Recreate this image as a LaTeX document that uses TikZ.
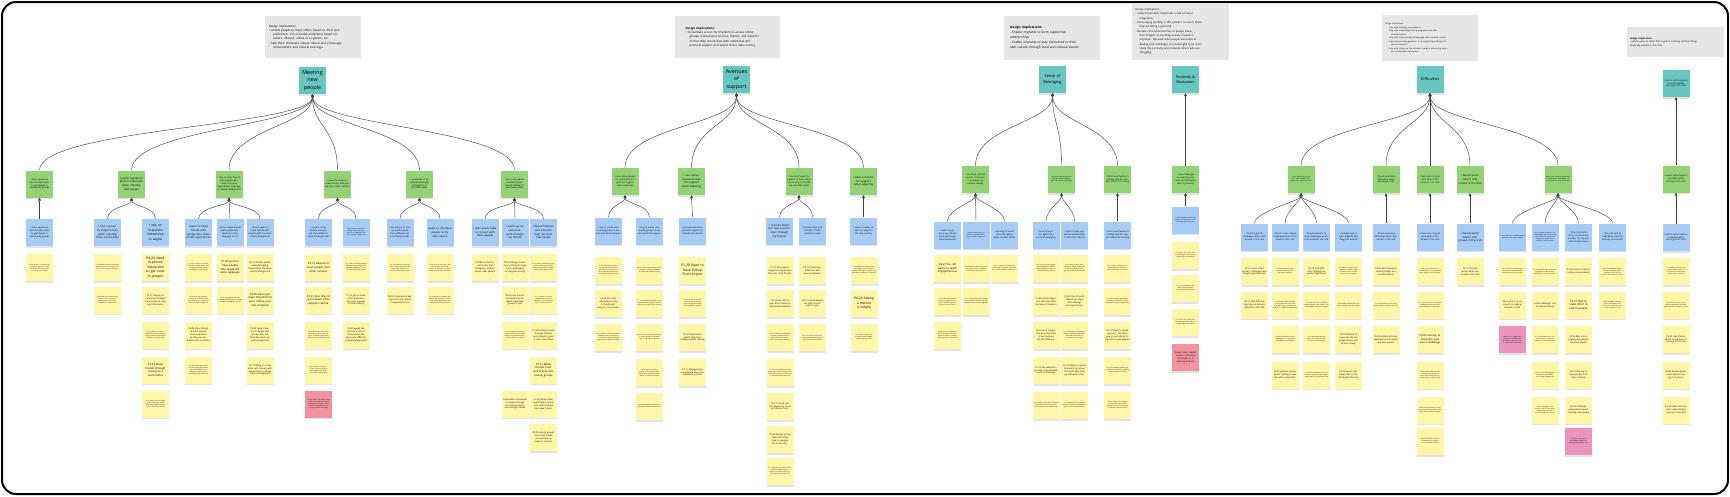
\documentclass[tikz,border=0pt]{standalone}
\usepackage{fontspec}
\setmainfont{Open Sans}
\usetikzlibrary{arrows.meta,shadows}

\definecolor{themecol}{HTML}{67C6C0}
\definecolor{insightcol}{HTML}{93D275}
\definecolor{findcol}{HTML}{A6CCF5}
\definecolor{quotecol}{HTML}{FFF6A8}
\definecolor{redcol}{HTML}{F0939D}
\definecolor{pinkcol}{HTML}{EA94BB}
\definecolor{implcol}{HTML}{E6E6E6}

\begin{document}
\begin{tikzpicture}[x=1pt, y=-1pt,
    note/.style={minimum width=27pt, minimum height=27pt, inner sep=0.8pt, text width=24.5pt, align=center,
      drop shadow={shadow xshift=0pt, shadow yshift=-1.5pt, opacity=0.22}},
    cluster/.style={note, fill=themecol, font=\fontsize{5.4}{7.4}\selectfont},
    insight/.style={note, fill=insightcol},
    finding/.style={note, fill=findcol},
    quote/.style={note, fill=quotecol},
    idea/.style={note, fill=#1},
    fbig/.style={font=\fontsize{3.3}{4.5}\selectfont},
    fmid/.style={font=\fontsize{2.7}{3.6}\selectfont},
    fsmall/.style={font=\fontsize{2.2}{2.9}\selectfont},
    ftiny/.style={font=\fontsize{1.5}{2}\selectfont},
    implic/.style={fill=implcol, inner sep=3pt, align=left, font=\fontsize{2.9}{4.3}\selectfont},
    link/.style={{Triangle[length=3pt,width=3pt]}-, draw=black!75, line width=0.45pt},
  ]
  \useasboundingbox (0,0) rectangle (1730,496);
  \draw[line width=2pt, rounded corners=14pt] (2,2) rectangle (1728,494);

  % DESIGN IMPLICATIONS
  \node (imp1) at (313,37) [implic, minimum width=96pt, minimum height=42pt, text width=88pt] {Design implications:\\
    \textbullet\ enable people to meet others based on their own\\\hspace*{4pt}preference. This includes preference based on\\\hspace*{4pt}culture, interest, online vs in-person,  etc.\\
    \textbullet\ help them showcase unique culture and encourage\\\hspace*{4pt}conversations and cultural exchange};
  \node (imp2) at (727.5,37) [implic, minimum width=105pt, minimum height=42pt, text width=84pt] {\textbf{Design implications:}\\
    \textbullet\ To facilitate access for migrants to access online\\\hspace*{4pt}groups, institutional services, friends, and mentors\\\hspace*{4pt}so that they can receive both emotional and\\\hspace*{4pt}practical support and adjust to the new country.};
  \node (imp3) at (1052,38) [implic, minimum width=96pt, minimum height=44pt, text width=84pt, font=\fontsize{3.2}{5}\selectfont] {\textbf{Design implications:}\\
    - Enable migrants to form supportive\\relationships\\
    - Enable migrants to stay connected to their\\own culture through food and cultural events};
  \node (imp4) at (1180.5,31.5) [implic, minimum width=97pt, minimum height=57pt, text width=90pt, font=\fontsize{2.6}{4.3}\selectfont] {Design implications:\\
    \textbullet\ reward them after they finish a task of social\\\hspace*{4pt}integration\\
    \textbullet\ Encouraging working in this product: let users know\\\hspace*{4pt}they are doing a great job\\
    \textbullet\ Narrate connections/stories so people share\\\hspace*{4pt}their insights on handling anxiety created in\\\hspace*{4pt}migration. Because some people are better at\\\hspace*{4pt}dealing with challenges, it's meaningful to let them\\\hspace*{4pt}share this positivity and motivate others who are\\\hspace*{4pt}struggling};
  \node (imp5) at (1430,38) [implic, minimum width=96pt, minimum height=46pt, text width=90pt, font=\fontsize{2}{3.5}\selectfont] {Design implications:\\
    \hspace*{3pt}- help with initiating conversations\\
    \hspace*{3pt}- help with establishing trust among peers and safe\\\hspace*{6pt}communications\\
    \hspace*{3pt}- help with understanding of language within cultural context\\
    \hspace*{3pt}- help with providing guidance on all migrants/providing in the\\\hspace*{6pt}new environment\\
    \hspace*{3pt}- help with calling out the incivility creating a welcoming, warm\\\hspace*{6pt}and comfortable atmosphere.};
  \node (imp6) at (1675.5,42) [implic, minimum width=97pt, minimum height=30pt, text width=91pt, font=\fontsize{2.3}{3.6}\selectfont] {\textbf{Design Implication:}\\
    - Enable users to settle their logistics remotely (without being\\physically present in the USA)};

  % MEETING NEW PEOPLE
  \node (meet) at (312.5,80.5) [cluster] {Meeting new people};
  \node (m1) at (39.5,184) [insight, fsmall] {I have wanted to but not been able to participate in community groups};
  \node (m2) at (131.5,184) [insight, fmid] {I prefer regular in-person interaction when meeting new people};
  \node (m3) at (229,184) [insight, fsmall] {I care to make friends with people who share the same experiences, language or cultural background};
  \node (m4) at (337.5,184) [insight, fsmall] {I have the desire to make friends with people from other cultures};
  \node (m5) at (419.5,184) [insight, fsmall] {I would like to do cultural exchanges through food and other ways};
  \node (m6) at (514.5,184) [insight, fsmall] {I use social media, mutual friends, shared hobbies to meet new people};

  \node (m1a) at (39.5,232.5) [finding, fsmall] {I have wanted to but not been able to participate in community groups};
  \node (m2a) at (107.5,232.5) [finding, fmid] {I find it easier to make friends when meeting them consistently};
  \node (m2b) at (155.5,232.5) [finding, fbig] {I rely on in-person interaction to adjust};
  \node (m3a) at (198.5,232.5) [finding, fmid] {I want to make friends with people who share similar experiences};
  \node (m3b) at (230,232.5) [finding, fsmall] {I like to make friends with people who speak the same language as me};
  \node (m3c) at (260,232.5) [finding, fsmall] {I find it easier to make friends with people with the same cultural background};
  \node (m4a) at (318.5,232.5) [finding, fsmall] {I seek to make friends and people from different cultural backgrounds};
  \node (m4b) at (356,232.5) [finding, ftiny] {Seek a balance between making friends with people from the different and same cultural background};
  \node (m5a) at (400,232.5) [finding, fsmall] {I am fond of to connect with people from different cultural backgrounds};
  \node (m5b) at (440,232.5) [finding, fmid] {I want to introduce people to my own culture};
  \node (m6a) at (485,232.5) [finding, fmid] {I use social media to connect with other people};
  \node (m6b) at (515,232.5) [finding, fmid] {I build up my social network through my friends};
  \node (m6c) at (543.5,232.5) [finding, fmid] {Shared hobbies and interests help me meet new people};

  \node (m1a1) at (39.5,267.5) [quote, ftiny] {P1-04 There is no single community for Indians, I could not find a community that fits me as a new comer};
  \node (m2a1) at (107.5,267.5) [quote, ftiny] {P3-04 Wanted to join community groups but did not find time to do so, has not gone to events};
  \node (m2a2) at (107.5,300) [quote, ftiny] {P4-05 Wants to attend events but is unable to find people to go with and is not confident to attend alone};
  \node (m2b1) at (155.5,267.5) [quote, fbig] {P4-24 Need in-person interaction to get close to people};
  \node (m2b2) at (155.5,300) [quote, fsmall] {P1-21 Relying on interaction student community for help and information};
  \node (m2b3) at (155.5,335) [quote, ftiny] {p2-11 Mentions that she needed in-person interaction to adjust and feel connected to others in the new place};
  \node (m2b4) at (155.5,370) [quote, fmid] {P3-28 Made friends through classes and room mates};
  \node (m2b5) at (155.5,404) [quote, ftiny] {p2-14 Notes that she made good friends by meeting with them regularly in person, in class and at events};
  \node (m3a1) at (198.5,267.5) [quote, ftiny] {P1-10 It's easier to connect and open up with others who are going through similar challenges and transitions};
  \node (m3a2) at (198.5,300) [quote, ftiny] {P4-20 Feels like it's easier to make friends when they can relate to each other and share a similar background};
  \node (m3a3) at (198.5,335) [quote, fsmall] {P4-06 Close friends are the second most important as they can empathise with problems};
  \node (m3a4) at (198.5,370) [quote, ftiny] {p2-12 Gets along with people who have gone through the same experience of moving to a new country, they understand each other};
  \node (m3b1) at (230,267.5) [quote, fmid] {P1-24 good to have people who speak the same language};
  \node (m3b2) at (230,300) [quote, ftiny] {P2-15 It is important to stay connected with people who speak the same language as you do};
  \node (m3c1) at (260,267.5) [quote, fsmall] {P4-19 Initially leaned towards making friends from the same cultural background};
  \node (m3c2) at (260,300) [quote, fmid] {P4-08 when you make friends from your culture, you feel accepted};
  \node (m3c3) at (260,335) [quote, fsmall] {P3-06 Finds it easier to mingle with people who are from the same cultural background};
  \node (m3c4) at (260,370) [quote, fsmall] {P1-15 Being in a new place, will connect with people from a similar cultural background};
  \node (m4a1) at (318.5,267.5) [quote, fmid] {P2-14 Desired to meet people from other cultures};
  \node (m4a2) at (318.5,300) [quote, fmid] {P3-01 Also likes to learn about other people's culture};
  \node (m4a3) at (318.5,335) [quote, ftiny] {P4-03 Wanted to learn more about people from other cultures, and make friends with different cultural backgrounds};
  \node (m4a4) at (318.5,370) [quote, ftiny] {p2-11 Wanted to get out of the comfort zone and meet people from different cultural backgrounds};
  \node (m4a5) at (318.5,404) [idea=redcol, ftiny] {Design idea: help people meet others from different cultural backgrounds through shared interests and events, and encourage cultural exchange};
  \node (m4b1) at (356,267.5) [quote, ftiny] {P1-11 Likes to expand network and get to know people from different backgrounds, not only from the same culture};
  \node (m4b2) at (356,300) [quote, fsmall] {P1-13 get to know other Americans also have a group of same identity};
  \node (m4b3) at (356,335) [quote, fsmall] {P2-09 would like to have a mix of friends from the same and different cultural backgrounds};
  \node (m5a1) at (400,267.5) [quote, ftiny] {p2-12 Cooking and sharing food is a way to connect with people from different cultures and learn about them};
  \node (m5a2) at (400,300) [quote, fsmall] {P4-28 Cooking and eating food from culture is important to her};
  \node (m5b1) at (440,267.5) [quote, ftiny] {P3-09 Likes to share and cook food of own culture with friends, it is a way to let them know more about her culture};
  \node (m5b2) at (440,300) [quote, ftiny] {P4-22 Wants to introduce her culture and festivals to friends from other backgrounds and take them to cultural events};
  \node (m6a1) at (485,267.5) [quote, fsmall] {P2-08/13 Used social media, like Instagram, to learn about other people};
  \node (m6b1) at (515,267.5) [quote, fsmall] {P4-09 Having connections of friends made it less challenging to integrate socially};
  \node (m6b2) at (515,300) [quote, fsmall] {P4-06 Got friends connected her towards whatsapp groups to join};
  \node (m6b3) at (515,335) [quote, ftiny] {P3-15 Through friends introduced, they met others who became close friends, this is how she built her network};
  \node (m6b4) at (515,404) [quote, fsmall] {P4-26 Were introduced to people through her mutual friends and through classes};
  \node (m6c1) at (543.5,267.5) [quote, ftiny] {P1-16 Joined a volunteer group and a hobby club and met people with the same interests, which helped make friends};
  \node (m6c2) at (543.5,300) [quote, ftiny] {P3-17 Lived in a Chinese neighborhood and met neighbors who introduced her to a Chinese church};
  \node (m6c3) at (543.5,335) [quote, fsmall] {P1-20 Finding friends through hobbies and interests, good to learn from them};
  \node (m6c4) at (543.5,370) [quote, fmid] {P4-12 Made friends from sports and community groups};
  \node (m6c5) at (543.5,404) [quote, fsmall] {P2-06 Joined clubs, specifically a sports club, which helped her make friends};
  \node (m6c6) at (543.5,437.5) [quote, fsmall] {P3-05 Joining groups and social media communities as ways to connect};

  % AVENUES OF SUPPORT
  \node (aven) at (736.5,79.5) [cluster] {Avenues of support};
  \node (a1) at (625,181.5) [insight, fsmall] {I use online groups for emotional and practical support when adjusting};
  \node (a2) at (691.5,181.5) [insight, fmid] {I use institutional services for support when adjusting};
  \node (a3) at (799,181.5) [insight, fsmall] {I use my friends for support to learn about the country and fulfill my essential needs};
  \node (a4) at (863.5,181.5) [insight, fmid] {I want a mentor for support when adjusting};

  \node (a1a) at (608.5,231) [finding, fsmall] {I rely on online community groups to obtain emotional support};
  \node (a1b) at (649.5,231) [finding, fsmall] {I rely on online community groups to obtain practical support};
  \node (a2a) at (692.5,231) [finding, fsmall] {I was provided with practical support by institutional services};
  \node (a3a) at (779.5,231) [finding, fmid] {I learned about the new environment through my friends};
  \node (a3b) at (812.5,231) [finding, fsmall] {I received help from friends to fulfill essential needs};
  \node (a4a) at (863.5,231) [finding, fsmall] {I want a mentor to help me adjust to the new country};

  \node (a1a1) at (608.5,270.5) [quote, ftiny] {P1-14 Uses online community groups and forums to get emotional support and share experiences with others going through the same};
  \node (a1a2) at (608.5,303.5) [quote, fsmall] {P4-30 She uses whatsapp to stay in touch with kenyans, mix groups.};
  \node (a1a3) at (608.5,337.5) [quote, ftiny] {p2-5 Relies on online groups of students from home country to talk about feelings and get support when feeling homesick};
  \node (a1b1) at (649.5,270.5) [quote, ftiny] {P3-07 Joined online groups to find housing, roommates, furniture and other tips before arriving};
  \node (a1b2) at (649.5,303.5) [quote, ftiny] {P1-14 Uses WeChat groups to ask questions about logistics such as phone plans, banks and transport};
  \node (a1b3) at (649.5,337.5) [quote, ftiny] {P2-03 Found practical information in online groups of students about housing and daily life};
  \node (a1b4) at (649.5,372.5) [quote, ftiny] {P4-18 Uses community groups to find second hand items and information about events and services around};
  \node (a1b5) at (649.5,406.5) [quote, ftiny] {p2-9 Online groups helped her get practical advice from seniors};
  \node (a2a1) at (692.5,270.5) [quote, fbig] {P1-20 Good to Have Pickup From Airport};
  \node (a2a2) at (692.5,303.5) [quote, ftiny] {P1-08 University support, including airport pickups and housing help, helped in the adaptation process};
  \node (a2a3) at (692.5,337.5) [quote, fsmall] {P6-07 Received logistical help from company when moving};
  \node (a2a4) at (692.5,372.5) [quote, fsmall] {P4-11 Manager was considerate about the adjustment period};
  \node (a3a1) at (780,270.5) [quote, fsmall] {P1-21 Elin expects support and guidance from her close friends.};
  \node (a3a2) at (780,303.5) [quote, fsmall] {P4-13 Got lots of help from friends to find accommodation};
  \node (a3a3) at (780,337.5) [quote, ftiny] {P4-10 Friends told her about logistics, like how to get a SIM card and a bank account, how to get to campus};
  \node (a3a4) at (780,372.5) [quote, ftiny] {p2-13 Learned about the new environment from friends who arrived earlier, where to shop, how to commute and where to eat};
  \node (a3a5) at (780,406.5) [quote, fsmall] {P4-11 Friend told her where she could get African food.};
  \node (a3a6) at (780,439.5) [quote, fsmall] {P4-06 Kenyan group helps her know how to navigate life in the USA.};
  \node (a3a7) at (780,471.5) [quote, ftiny] {P3-12 Asked close friends about different neighborhoods, where to live and where to find supermarkets and food};
  \node (a3b1) at (812.5,270.5) [quote, fsmall] {P4-13 Friend provided her with accommodation.};
  \node (a3b2) at (812.5,303.5) [quote, fsmall] {P4-13 Friend helped her with searching for a job.};
  \node (a3b3) at (812.5,337.5) [quote, ftiny] {P4-15 Got advice from classmates during move-in about furniture and some basics};
  \node (a4a1) at (864,270.5) [quote, ftiny] {P4-29 Mentors are the most important in the first year to address challenges in school, navigate advice and further challenges};
  \node (a4a2) at (864,303.5) [quote, fbig] {P6-29 having a mentor is helpful};
  \node (a4a3) at (864,337.5) [quote, ftiny] {P3-13 Was mentored by a former advisor regarding setting up as well};

  % SENSE OF BELONGING
  \node (belo) at (1052.5,79.5) [cluster, font=\fontsize{3.9}{5.6}\selectfont] {Sense of Belonging};
  \node (b1) at (975.5,179.5) [insight, fsmall] {I use food, cultural events and music to preserve my cultural identity};
  \node (b2) at (1061.5,179.5) [insight, ftiny] {Supportive relationships and feeling socially integrated gives me a sense of belonging};
  \node (b3) at (1117.5,179.5) [insight, fsmall] {I find it worthwhile to actively look for support after first moving};

  \node (b1a) at (947.5,235) [finding, fsmall] {I want to preserve my cultural identity through food and events};
  \node (b1b) at (976,235) [finding, ftiny] {I value cultural events to connect to people of the same cultural background};
  \node (b1c) at (1004.5,235) [finding, fsmall] {Listening to music from my culture helps me feel better};
  \node (b2a) at (1046,235) [finding, fsmall] {Social integration gives me a sense of belonging};
  \node (b2b) at (1074.5,235) [finding, fsmall] {I want to have supportive relationships to feel that I belong};
  \node (b3a) at (1117.5,235) [finding, fsmall] {I find it worthwhile to actively look for support after first moving};

  \node (b1a1) at (947.5,268.5) [quote, fmid] {P4-27 He still wants to retain Singapore-ness};
  \node (b1a2) at (947.5,301.5) [quote, ftiny] {P1-10 Food and cultural events are important as a way of maintaining a connection to one's culture};
  \node (b1a3) at (947.5,335.5) [quote, ftiny] {p2-13 Goes to cultural festivals and cooks food from home to keep her cultural identity alive in a new place};
  \node (b1b1) at (976,268.5) [quote, ftiny] {P3-09 Likes to make friends of their own culture to celebrate cultural festivals with them};
  \node (b1b2) at (976,301.5) [quote, ftiny] {P1-17 Feeling connected through cultural events, shared food, and experiences and cooking together};
  \node (b1c1) at (1004.5,268.5) [quote, ftiny] {p2-17 Listening to music from home helps to relieve stress and feel connected when feeling alone};
  \node (b2a1) at (1046,268.5) [quote, ftiny] {P6-19 Joined social integration is important because everyone needs to feel connected and they belong};
  \node (b2a2) at (1046,301.5) [quote, fsmall] {P1-09 social integration was important because of isolation};
  \node (b2a3) at (1046,335.5) [quote, fsmall] {P4-3 Social integration was important to her because she felt different.};
  \node (b2a4) at (1046,370.5) [quote, fsmall] {P4-19 She wanted to feel like she belonged to the community.};
  \node (b2a5) at (1046,405.5) [quote, ftiny] {P4-13 Wants to be around people to feel that she was not alone in a new place and needed help};
  \node (b2b1) at (1074.5,268.5) [quote, ftiny] {P3-14 Values friends and a community where people care about each other and support one another emotionally};
  \node (b2b2) at (1074.5,301.5) [quote, fsmall] {P4-09 Close friends helped her cope with feelings and experiences.};
  \node (b2b3) at (1074.5,335.5) [quote, ftiny] {P1-10 Supportive relationships helped in building confidence, and made her feel she is not alone in her struggles};
  \node (b2b4) at (1074.5,370.5) [quote, fsmall] {P6-10 Wants to spend time with her group of friends, they keep up with each other};
  \node (b2b5) at (1074.5,405.5) [quote, ftiny] {P1-16 Wanted to connect with people and build strong relationships in the new environment};
  \node (b3a1) at (1117.5,268.5) [quote, ftiny] {P6-17 Says it is important to actively look for support after first moving, it is worth it};
  \node (b3a2) at (1117.5,301.5) [quote, ftiny] {p2-14 Encourages newcomers to reach out and ask for help, people are willing to support you};
  \node (b3a3) at (1117.5,335.5) [quote, fsmall] {P6-19 Need to speak up more: the more you go out and do it, the more it will happen};
  \node (b3a4) at (1117.5,370.5) [quote, ftiny] {p2-16 Encourages others to go to events, since actively seeking support helped her adjust};
  \node (b3a5) at (1117.5,405.5) [quote, ftiny] {P4-19 Taking a first step to connect with others after moving is worth it, people are more open than you think};

  % POSITIVITY AND MOTIVATION
  \node (posi) at (1185.5,79.5) [cluster, font=\fontsize{3.7}{5.4}\selectfont] {Positivity \& Motivation};
  \node (p1) at (1185.5,179.5) [insight, fsmall] {I view challenges as a learning process and this helps with my anxiety};
  \node (p1a) at (1185.5,220) [finding, ftiny] {I view challenges as learning process and a positive mindset helps with my anxiety};
  \node (p1a1) at (1185.5,255.5) [quote, ftiny] {p2-15 Not very afraid of all the challenges, see them as something to learn about};
  \node (p1a2) at (1185.5,288.5) [quote, ftiny] {P1-18 Concentrate on the tasks; think about positivity helped with anxiety};
  \node (p1a3) at (1185.5,322.5) [quote, ftiny] {p2-16 Not very afraid of all the challenges, see them as something to learn about};
  \node (p1a4) at (1185.5,357.5) [idea=redcol, fsmall] {Design idea: reward system, reframing challenges as a learning process.};

  % DIFFICULTIES
  \node (diff) at (1430,79.5) [cluster, font=\fontsize{3.7}{5.4}\selectfont] {Difficulties};
  \node (d1) at (1301,179.5) [insight, ftiny] {I faced difficulties in logistics, career, academic, language when adjusting to USA};
  \node (d2) at (1386,179.5) [insight, fsmall] {I faced emotional difficulties when adjusting to USA};
  \node (d3) at (1430,179.5) [insight, fsmall] {I had a lack of guidance when I first arrived in the USA};
  \node (d4) at (1470,179.5) [insight, fmid] {I faced racism when I first arrived in the USA};
  \node (d5) at (1558,179.5) [insight, ftiny] {Meeting and forming relationships is hard because of language, cultural barriers and my personality};

  \node (d1a) at (1254.5,237) [finding, fsmall] {I faced logistical challenges when I first arrived in the USA};
  \node (d1b) at (1285,237) [finding, fsmall] {I faced career related challenges when I first arrived in the USA};
  \node (d1c) at (1316.5,237) [finding, fsmall] {I faced academic related challenges when I first arrived in the USA};
  \node (d1d) at (1348.5,237) [finding, fsmall] {I needed help to learn English, also slang and accents};
  \node (d2a) at (1386,237) [finding, fsmall] {I faced emotional difficulties when I first arrived in the USA};
  \node (d3a) at (1430,237) [finding, fsmall] {I had a lack of guidance when I first arrived in the USA};
  \node (d4a) at (1470,237) [finding, fmid] {I faced racism when I first arrived in the USA};
  \node (d5a) at (1512.5,237) [finding, ftiny] {I faced difficulty in finding friends who share the same interests};
  \node (d5b) at (1545,237) [finding, ftiny] {The language barrier and understanding jokes, social norms and cultural cues makes connecting with people from different cultures harder};
  \node (d5c) at (1578.5,237) [finding, fsmall] {I find it hard initiating conversations because I'm shy and I don't know how to};
  \node (d5d) at (1612.5,237) [finding, fsmall] {I face the lack of trust when meeting with my roommates};

  \node (d1a1) at (1254.5,271.5) [quote, fsmall] {P3-13 One of their primary challenges was trying to get furniture.};
  \node (d1a2) at (1254.5,305) [quote, fsmall] {P3-11 Had difficulty figuring out delivery systems in the USA};
  \node (d1b1) at (1285,271.5) [quote, ftiny] {P1-03 Experienced career-related anxiety concerning future prospects};
  \node (d1b2) at (1285,305) [quote, ftiny] {P1-04 Worried about finding an internship and a job after graduation, as an international student in a different background};
  \node (d1b3) at (1285,339.5) [quote, ftiny] {P3-06 Financial burden and starting over in a new field were significant challenges};
  \node (d1b4) at (1285,375) [quote, fsmall] {P4-23 general anxiety about starting a new job with a new team};
  \node (d1c1) at (1316.5,271.5) [quote, fsmall] {P3-12 Had difficulty figuring out course registration};
  \node (d1c2) at (1316.5,305) [quote, ftiny] {P1-18 Was not used to different teaching styles in the classes, and the workload compared to home};
  \node (d1c3) at (1316.5,339.5) [quote, ftiny] {p2-10 challenge was academic, their style is different from the undergrad};
  \node (d1c4) at (1316.5,375) [quote, ftiny] {P1-05 Faced questions from others about why they chose a graduate program in a different field};
  \node (d1d1) at (1348.5,271.5) [quote, ftiny] {P3-03 Had a supportive ESL teacher to explain slang and accents and to help her learn the language};
  \node (d1d2) at (1348.5,305) [quote, ftiny] {P2-02 Really worried about not understanding slang and accents};
  \node (d1d3) at (1348.5,339.5) [quote, fsmall] {P2-09 Wanted to overcome the language barrier and fit into society};
  \node (d1d4) at (1348.5,375) [quote, fsmall] {P3-02 Faced challenges due to limited English fluency};
  \node (d2a1) at (1386,271.5) [quote, fsmall] {P6-02 Felt sad about leaving family and friends behind};
  \node (d2a2) at (1386,305) [quote, ftiny] {P1-08 Experienced stress and anxiety before moving to the USA};
  \node (d2a3) at (1386,339.5) [quote, fsmall] {P4-03 Initially felt overwhelmed and stressed but also excited};
  \node (d3a1) at (1430,271.5) [quote, ftiny] {P4-20 Felt lost and did not know where to go for help with basic things in the first weeks};
  \node (d3a2) at (1430,305) [quote, ftiny] {P1-11 Arrived in the U.S. without knowing anyone, and faced initial loneliness and isolation};
  \node (d3a3) at (1430,339.5) [quote, fmid] {P6-09 Getting to know the area was a challenge};
  \node (d3a4) at (1430,375) [quote, ftiny] {P3-10 Initially tried to do everything on their own, it was hard to know the system and who to ask for help};
  \node (d3a5) at (1430,410) [quote, ftiny] {P3-04 Had no guidance on the local resources and had to find them with the help of people};
  \node (d3a6) at (1430,441.5) [quote, ftiny] {P4-16 She wishes she had researched more about the city before moving};
  \node (d4a1) at (1470,271.5) [quote, fsmall] {P4 15 She felt racism when she moved to the USA};
  \node (d5a1) at (1512.5,271.5) [quote, ftiny] {P4-11 Found it challenging to find friends as many people already had their own groups};
  \node (d5a2) at (1512.5,305) [quote, fsmall] {P4-26 She is an introvert so making friends is hard.};
  \node (d5a3) at (1512.5,339.5) [idea=pinkcol, ftiny] {Design idea: suggest people with shared interests and make it easier to start a conversation with them};
  \node (d5b1) at (1545,271.5) [quote, ftiny] {P1-19 Had difficulty understanding jokes and cultural cues, felt excluded in conversations};
  \node (d5b2) at (1545,305) [quote, fsmall] {p2-06 challenge: lots of cultural shocks};
  \node (d5b3) at (1545,339.5) [quote, ftiny] {P1-19 Deals with many cultural anxiety such as language and social differences};
  \node (d5b4) at (1545,375) [quote, ftiny] {P4-16 Found challenging to meet others from different cultural backgrounds};
  \node (d5b5) at (1545,410) [quote, ftiny] {P3-08 Language barrier made it hard to form deep relationships with people from different cultures};
  \node (d5c1) at (1578.5,271.5) [quote, fsmall] {P3-05 found it hard to initiate conversations};
  \node (d5c2) at (1578.5,305) [quote, fmid] {P3-27 Had to make effort to talk to people};
  \node (d5c3) at (1578.5,339.5) [quote, fsmall] {P3-06 Was shy to engage with people on social media};
  \node (d5c4) at (1578.5,375) [quote, fsmall] {P3-14 Felt shy to meet people from other cultures};
  \node (d5c5) at (1578.5,410) [quote, fsmall] {p5-04 challenge: nervousness about meeting new people};
  \node (d5c6) at (1578.5,441.5) [idea=pinkcol, ftiny] {P1-29 P3-15 Are ways to kick people through providing conversational cues};
  \node (d5d1) at (1612.5,271.5) [quote, ftiny] {p2-03 Roommates did not let her know they would be away, so she did not know if she could trust them};
  \node (d5d2) at (1612.5,305) [quote, ftiny] {p2-05 Arranged the roommates with them in the first year, but did not trust them to share the keys};

  % LOGISTICS
  \node (logi) at (1676,83.5) [cluster, fsmall] {I had to settle logistics remotely before arriving in the USA};
  \node (l1) at (1676,179) [insight, fsmall] {I had to settle logistics remotely before arriving in the USA};
  \node (l1a) at (1676,237.5) [finding, fsmall] {I had to settle logistics remotely before arriving in the USA};
  \node (l1a1) at (1676,271.5) [quote, ftiny] {P1-12 Before moving to the United States, they had to figure out housing and a bank account remotely};
  \node (l1a2) at (1676,305) [quote, ftiny] {P3-06 Had to set up a lot of logistics (apartment, banking, phone) before arriving in the USA};
  \node (l1a3) at (1676,339.5) [quote, fsmall] {P2-07 Had chosen where to live prior to arriving in the USA};
  \node (l1a4) at (1676,375) [quote, fsmall] {P3-05 Rented apartment without seeing it in person};
  \node (l1a5) at (1676,410) [quote, fsmall] {P3-09 Had met their room mates before moving to the USA};

  % CONNEXIONS
  % Themes to insights
  \draw[link] (meet.south) .. controls +(0,32) and +(0,-42) .. (m1.north);
  \draw[link] (meet.south) .. controls +(0,32) and +(0,-42) .. (m2.north);
  \draw[link] (meet.south) .. controls +(0,32) and +(0,-42) .. (m3.north);
  \draw[link] (meet.south) .. controls +(0,32) and +(0,-42) .. (m4.north);
  \draw[link] (meet.south) .. controls +(0,32) and +(0,-42) .. (m5.north);
  \draw[link] (meet.south) .. controls +(0,32) and +(0,-42) .. (m6.north);
  \draw[link] (aven.south) .. controls +(0,32) and +(0,-42) .. (a1.north);
  \draw[link] (aven.south) .. controls +(0,32) and +(0,-42) .. (a2.north);
  \draw[link] (aven.south) .. controls +(0,32) and +(0,-42) .. (a3.north);
  \draw[link] (aven.south) .. controls +(0,32) and +(0,-42) .. (a4.north);
  \draw[link] (belo.south) .. controls +(0,30) and +(0,-40) .. (b1.north);
  \draw[link] (belo.south) .. controls +(0,30) and +(0,-40) .. (b2.north);
  \draw[link] (belo.south) .. controls +(0,30) and +(0,-40) .. (b3.north);
  \draw[link] (posi.south) -- (p1.north);
  \draw[link] (diff.south) .. controls +(0,30) and +(0,-40) .. (d1.north);
  \draw[link] (diff.south) .. controls +(0,30) and +(0,-40) .. (d2.north);
  \draw[link] (diff.south) -- (d3.north);
  \draw[link] (diff.south) .. controls +(0,30) and +(0,-40) .. (d4.north);
  \draw[link] (diff.south) .. controls +(0,30) and +(0,-40) .. (d5.north);
  \draw[link] (logi.south) -- (l1.north);

  % Insights to findings
  \draw[link] (m1.south) -- (m1a.north);
  \draw[link] (m2.south) .. controls +(0,8) and +(0,-12) .. (m2a.north);
  \draw[link] (m2.south) .. controls +(0,8) and +(0,-12) .. (m2b.north);
  \draw[link] (m3.south) .. controls +(0,8) and +(0,-12) .. (m3a.north);
  \draw[link] (m3.south) -- (m3b.north);
  \draw[link] (m3.south) .. controls +(0,8) and +(0,-12) .. (m3c.north);
  \draw[link] (m4.south) .. controls +(0,8) and +(0,-12) .. (m4a.north);
  \draw[link] (m4.south) .. controls +(0,8) and +(0,-12) .. (m4b.north);
  \draw[link] (m5.south) .. controls +(0,8) and +(0,-12) .. (m5a.north);
  \draw[link] (m5.south) .. controls +(0,8) and +(0,-12) .. (m5b.north);
  \draw[link] (m6.south) .. controls +(0,8) and +(0,-12) .. (m6a.north);
  \draw[link] (m6.south) -- (m6b.north);
  \draw[link] (m6.south) .. controls +(0,8) and +(0,-12) .. (m6c.north);
  \draw[link] (a1.south) .. controls +(0,8) and +(0,-12) .. (a1a.north);
  \draw[link] (a1.south) .. controls +(0,8) and +(0,-12) .. (a1b.north);
  \draw[link] (a2.south) -- (a2a.north);
  \draw[link] (a3.south) .. controls +(0,8) and +(0,-12) .. (a3a.north);
  \draw[link] (a3.south) .. controls +(0,8) and +(0,-12) .. (a3b.north);
  \draw[link] (a4.south) -- (a4a.north);
  \draw[link] (b1.south) .. controls +(0,8) and +(0,-12) .. (b1a.north);
  \draw[link] (b1.south) -- (b1b.north);
  \draw[link] (b1.south) .. controls +(0,8) and +(0,-12) .. (b1c.north);
  \draw[link] (b2.south) .. controls +(0,8) and +(0,-12) .. (b2a.north);
  \draw[link] (b2.south) .. controls +(0,8) and +(0,-12) .. (b2b.north);
  \draw[link] (b3.south) -- (b3a.north);
  \draw[link] (p1.south) -- (p1a.north);
  \draw[link] (d1.south) .. controls +(0,8) and +(0,-12) .. (d1a.north);
  \draw[link] (d1.south) .. controls +(0,8) and +(0,-12) .. (d1b.north);
  \draw[link] (d1.south) .. controls +(0,8) and +(0,-12) .. (d1c.north);
  \draw[link] (d1.south) .. controls +(0,8) and +(0,-12) .. (d1d.north);
  \draw[link] (d2.south) -- (d2a.north);
  \draw[link] (d3.south) -- (d3a.north);
  \draw[link] (d4.south) -- (d4a.north);
  \draw[link] (d5.south) .. controls +(0,8) and +(0,-12) .. (d5a.north);
  \draw[link] (d5.south) .. controls +(0,8) and +(0,-12) .. (d5b.north);
  \draw[link] (d5.south) .. controls +(0,8) and +(0,-12) .. (d5c.north);
  \draw[link] (d5.south) .. controls +(0,8) and +(0,-12) .. (d5d.north);
  \draw[link] (l1.south) -- (l1a.north);
\end{tikzpicture}
\end{document}
